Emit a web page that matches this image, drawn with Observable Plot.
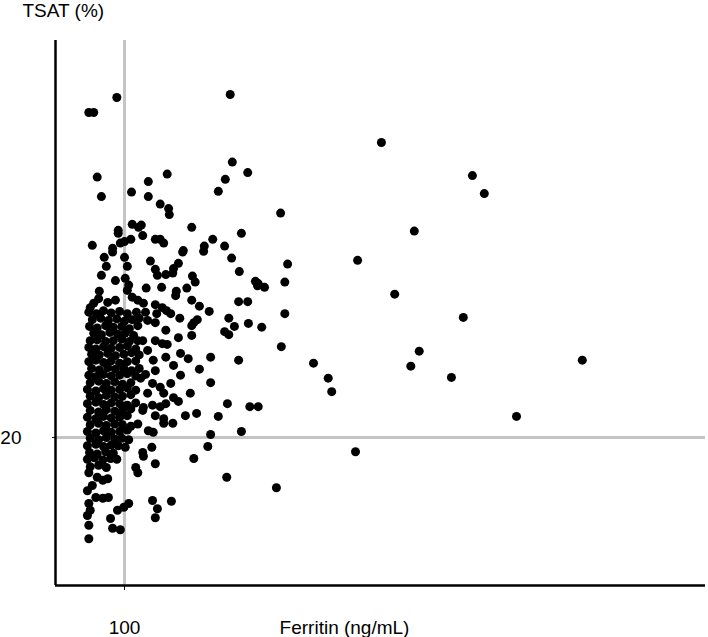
<!DOCTYPE html>
<html>
<head>
<meta charset="utf-8">
<script src="https://cdn.jsdelivr.net/npm/d3@7"></script>
<script src="https://cdn.jsdelivr.net/npm/@observablehq/plot@0.6"></script>
<style>
  html, body { margin: 0; padding: 0; background: #fff; }
</style>
</head>
<body>
<div id="chart"></div>
<script>
// Ferritin (ng/mL), TSAT (%) pairs
const upperPoints = [
  [89,65.3],[49,63.3],[56,63.3],[251,65.7],[61,54.7],[67,52.1],[110,52.7],[134,54.1],[134,52.1],
  [161,55.1],[151,51.1],[163,50.5],[164,49.7],[234,52.8],[254,56.7],[276,55.3],[244,54.4],
  [91,47.6],[91,47.2],[111,48.4],[120,48.0],[126,46.9],[109,46.4],[100,46.1],[94,45.9],[54,45.6],
  [83,45.2],[124,48.3],[144,46.4],[151,46.4],[156,45.9],[196,48.0],[226,46.4],[214,45.5],
  [184,44.9],[183,44.7],[213,44.8],[83,44.7],[71,44.0],[100,44.0]
];
const upperMid = [
  [74,42.8],[104,42.8],[67,41.6],[87,40.9],[101,41.2],[106,40.3],[64,39.5],[104,39.6],[63,38.5],
  [111,38.7],[119,38.3],[56,37.9],[76,38.0],[87,38.3],[51,37.3],
  [137,43.5],[177,43.2],[170,42.5],[144,42.4],[147,41.6],[159,41.7],[169,41.9],[197,41.5],
  [201,40.7],[131,39.9],[153,40.0],[189,39.9],[174,39.5],[173,38.9],[196,38.3],[127,37.9],
  [144,37.7],[154,37.3],[207,37.5]
];
const coreCluster = [
  [49,36.7],[60,36.5],[70,36.9],[81,36.6],[93,36.8],[104,36.5],[117,36.7],
  [54,35.7],[66,35.9],[77,35.6],[89,35.8],[100,35.5],[111,35.7],[121,35.9],
  [50,34.8],[61,34.6],[73,34.9],[84,34.7],[96,34.8],[107,34.5],[119,34.9],
  [56,33.9],[67,33.7],[79,34.0],[90,33.8],[101,33.9],[113,33.6],
  [51,32.9],[61,33.0],[73,32.8],[84,32.9],[96,33.1],[107,32.8],[119,32.9],
  [49,32.0],[59,31.8],[70,32.1],[81,31.9],[93,32.0],[104,32.2],[116,31.8],
  [53,31.1],[64,31.0],[76,31.2],[87,30.9],[99,31.1],[110,31.3],[121,31.0],
  [49,30.1],[59,30.3],[70,30.0],[81,30.2],[93,29.9],[104,30.1],[116,30.2],
  [53,29.2],[64,29.0],[76,29.3],[87,29.1],[99,29.2],[110,28.9],[121,29.2],
  [49,28.3],[59,28.1],[70,28.4],[81,28.2],[93,28.3],[104,28.5],[116,28.2],
  [51,27.3],[63,27.5],[74,27.2],[86,27.4],[97,27.1],[109,27.3],
  [47,26.4],[59,26.2],[70,26.5],[81,26.3],[93,26.4],[104,26.6],[116,26.3],
  [51,25.5],[63,25.3],[74,25.6],[86,25.4],[97,25.5],[109,25.7],
  [47,24.5],[59,24.7],[70,24.4],[81,24.6],[93,24.5],[104,24.3],[116,24.6],
  [51,23.6],[63,23.4],[74,23.7],[86,23.5],[97,23.6],[109,23.8],
  [47,22.7],[59,22.5],[70,22.8],[81,22.6],[93,22.7],[104,22.9],
  [51,21.7],[63,21.9],[74,21.6],[86,21.8],[97,21.7],[109,21.5],[119,21.8],
  [47,20.8],[59,20.6],[70,20.9],[81,20.7],[93,20.8],[104,21.0],
  [51,19.9],[63,19.7],[74,20.0],[86,19.8],[96,19.9],[106,19.7],
  [47,18.9],[59,19.1],[70,18.8],[81,19.0],[91,18.9],[101,18.7],
  [50,18.0],[61,17.8],[73,18.1],[84,17.9],
  [47,17.1],[57,17.3],[69,17.0],[80,17.2],[89,17.1],
  [51,16.1],[63,16.3],[74,16.0]
];
const midCluster = [
  [221,36.8],[130,36.7],[133,35.6],[146,36.5],[160,36.9],[166,36.5],[179,35.9],[199,35.3],
  [196,34.9],[204,35.7],[144,35.3],[159,34.3],[126,32.9],[196,33.6],[177,33.3],[144,32.9],
  [154,32.5],[161,32.4],[133,31.6],[180,31.2],[191,30.5],[223,30.7],[141,30.3],[159,30.7],
  [170,29.6],[207,29.1],[130,28.4],[123,27.9],[144,28.9],[180,28.3],[223,27.3],[140,27.2],
  [151,26.7],[166,27.2],[194,25.9],[133,25.9],[156,25.9],[170,25.3],[127,24.0],[140,24.3],
  [151,24.1],[159,24.5],[177,24.8],[126,23.6],[144,22.9],[156,22.5],[156,21.9],[169,21.9],
  [187,22.9],[203,23.2],[134,20.9],[141,20.7],[223,20.4],[219,18.8],[139,18.7],[126,18.0],
  [127,17.5],[199,17.2],[144,16.5]
];
const sparseHigh = [
  [234,22.8],[323,49.9],[267,47.2],[243,45.5],[253,43.9],[264,42.1],[333,43.1],[287,40.8],
  [291,40.5],[290,40.2],[300,40.0],[329,40.7],[263,38.1],[276,38.1],[329,36.5],[249,35.9],
  [257,34.8],[277,35.2],[243,34.1],[249,33.7],[296,34.7],[324,32.1],[263,30.3],[247,24.5],
  [279,24.1],[291,24.1],[267,20.8],
  [467,59.3],[597,54.9],[614,52.5],[514,47.5],[433,43.6],[486,39.1],[584,36.0],[521,31.5],
  [370,29.9],[509,29.5],[754,30.3],[391,27.9],[567,28.0],[396,26.1],[660,22.8],[430,18.1]
];
const lowTsat = [
  [116,16.0],[119,15.3],[49,15.3],[61,14.7],[69,14.3],[76,14.5],[47,12.9],[54,13.6],[59,12.0],
  [69,11.9],[77,12.0],[49,11.2],[106,11.2],[99,10.7],[51,10.3],[90,10.3],[47,9.6],[80,9.2],
  [49,8.3],[83,7.9],[94,7.7],[49,6.5],[140,11.6],[167,11.5],[147,10.5],[144,9.3],
  [246,14.7],[317,13.3]
];

const xTicks = [100];
const yTicks = [20];
const xLabel = "Ferritin (ng/mL)";
const yLabel = "TSAT (%)";
const xDomain = [1.4, 930];
const yDomain = [0.27, 72.9];

const points = [...upperPoints, ...upperMid, ...coreCluster, ...midCluster, ...sparseHigh, ...lowTsat]
  .map(([ferritin, tsat]) => ({ferritin, tsat}));

const chart = Plot.plot({
  width: 708,
  height: 637,
  marginLeft: 55,
  marginRight: 3,
  marginTop: 40,
  marginBottom: 52,
  style: {fontFamily: "'Liberation Sans', Arial, sans-serif", fontSize: "19px", background: "#fff", color: "#000"},
  x: {domain: xDomain},
  y: {domain: yDomain},
  marks: [
    Plot.ruleX(xTicks, {stroke: "#c4c4c4", strokeWidth: 3}),
    Plot.ruleY(yTicks, {stroke: "#c4c4c4", strokeWidth: 3}),
    Plot.axisX({ticks: xTicks, tickSize: 5, tickPadding: 30, label: null, tickFormat: d => String(d)}),
    Plot.axisY({ticks: yTicks, tickSize: 3, tickPadding: 31, label: null, tickFormat: d => String(d)}),
    Plot.ruleX([xDomain[0]], {stroke: "#000", strokeWidth: 2.5}),
    Plot.ruleY([yDomain[0]], {stroke: "#000", strokeWidth: 2.5}),
    Plot.dot(points, {x: "ferritin", y: "tsat", r: 4.5, fill: "#000", stroke: null}),
    Plot.text([xLabel], {frameAnchor: "bottom", dx: -36, dy: 42, text: d => d, textAnchor: "middle", lineAnchor: "middle", fontSize: 19}),
    Plot.text([yLabel], {frameAnchor: "top-left", dx: -33, dy: -30, text: d => d, textAnchor: "start", lineAnchor: "middle", fontSize: 19})
  ]
});
document.getElementById("chart").append(chart);
</script>
</body>
</html>
